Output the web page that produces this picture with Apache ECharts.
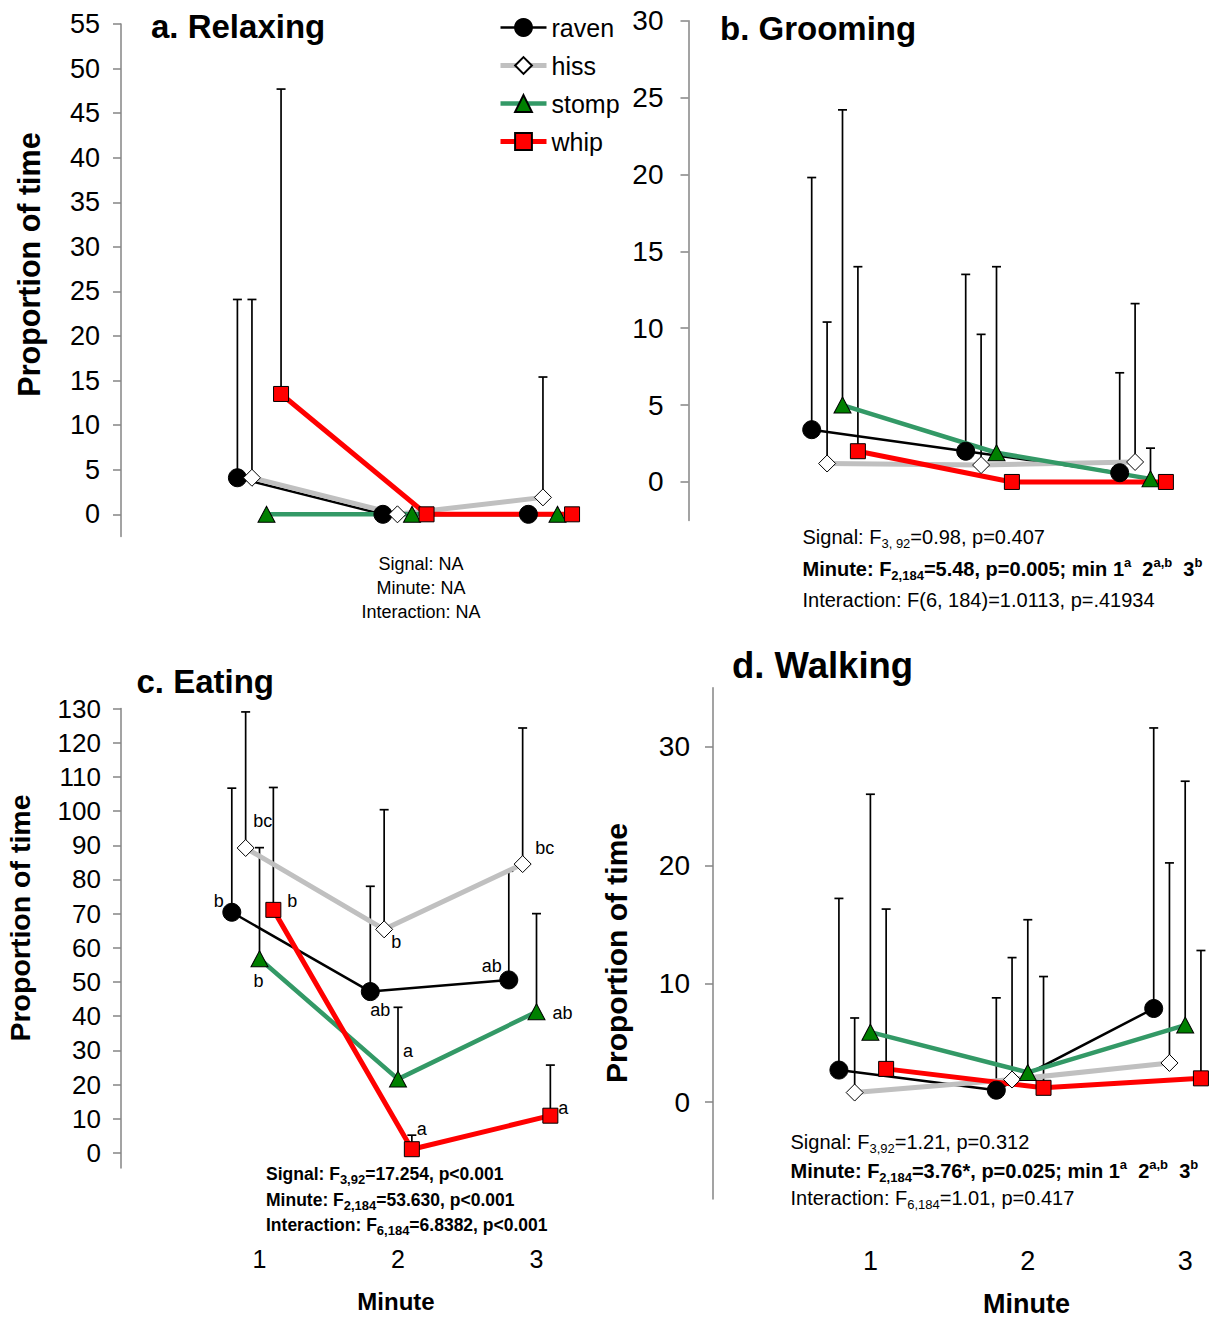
<!DOCTYPE html>
<html>
<head>
<meta charset="utf-8">
<title>Proportion of time by minute and signal</title>
<script src="https://cdn.jsdelivr.net/npm/echarts@6/dist/echarts.min.js"></script>
<style>
  html, body { margin: 0; padding: 0; background: #ffffff; }
  #chart { width: 1216px; height: 1320px; }
</style>
</head>
<body>
<div id="chart"></div>
<script>
// ---------- data ----------
const minutes = [1, 2, 3];
const minuteLabels = ['1', '2', '3'];
const signals = ['raven', 'hiss', 'stomp', 'whip'];

// a. Relaxing: means and SD (upper bars)
const relaxingRaven = [4.1, 0, 0];
const relaxingHiss = [4.1, 0, 1.9];
const relaxingStomp = [0, 0, 0];
const relaxingWhip = [13.5, 0, 0];
const relaxingRavenSd = [20.0, 0, 0];
const relaxingHissSd = [20.0, 0, 13.5];
const relaxingStompSd = [0, 0, 0];
const relaxingWhipSd = [34.2, 0, 0];
const relaxingTicks = [0, 5, 10, 15, 20, 25, 30, 35, 40, 45, 50, 55];

// b. Grooming
const groomingRaven = [3.4, 2.0, 0.6];
const groomingHiss = [1.2, 1.1, 1.3];
const groomingStomp = [5.0, 1.9, 0.2];
const groomingWhip = [2.0, 0, 0];
const groomingRavenSd = [16.4, 11.5, 6.5];
const groomingHissSd = [9.2, 8.5, 10.3];
const groomingStompSd = [19.2, 12.1, 2.0];
const groomingWhipSd = [12.0, 0, 0];
const groomingTicks = [0, 5, 10, 15, 20, 25, 30];

// c. Eating
const eatingRaven = [70.4, 47.2, 50.6];
const eatingHiss = [89.2, 65.4, 84.5];
const eatingStomp = [56.8, 21.6, 41.3];
const eatingWhip = [71.1, 1.1, 10.9];
const eatingRavenSd = [36.3, 30.8, 31.8];
const eatingHissSd = [39.8, 35.0, 39.8];
const eatingStompSd = [32.5, 21.0, 28.7];
const eatingWhipSd = [35.8, 4.1, 14.8];
const eatingRavenGroups = ['b', 'ab', 'ab'];
const eatingHissGroups = ['bc', 'b', 'bc'];
const eatingStompGroups = ['b', 'a', 'ab'];
const eatingWhipGroups = ['b', 'a', 'a'];
const eatingTicks = [0, 10, 20, 30, 40, 50, 60, 70, 80, 90, 100, 110, 120, 130];

// d. Walking
const walkingRaven = [2.7, 1.0, 7.9];
const walkingHiss = [0.8, 1.9, 3.3];
const walkingStomp = [5.9, 2.5, 6.5];
const walkingWhip = [2.8, 1.2, 2.0];
const walkingRavenSd = [14.5, 7.8, 23.7];
const walkingHissSd = [6.3, 10.3, 16.9];
const walkingStompSd = [20.1, 12.9, 20.6];
const walkingWhipSd = [13.5, 9.4, 10.8];
const walkingTicks = [0, 10, 20, 30];

// ---------- styling ----------
const FONT = '"Liberation Sans", Arial, Helvetica, sans-serif';
const AXIS_GRAY = '#858585';
const CAP = 4.5;

const SIGNAL_STYLE = {
  raven: { line: '#000000', width: 2.5, symbol: 'circle', size: 18, fill: '#000000' },
  hiss:  { line: '#c0c0c0', width: 5, symbol: 'diamond', size: 17, fill: '#ffffff' },
  stomp: { line: '#339966', width: 4.5, symbol: 'triangle', size: [17, 16], fill: '#008000' },
  whip:  { line: '#ff0000', width: 5, symbol: 'rect', size: 15, fill: '#ff0000' }
};
// horizontal spread of the four signals around each minute
const SIGNAL_SHIFT = { raven: -0.2, hiss: -0.1, stomp: 0, whip: 0.1 };

// label offsets (px) for the post-hoc letters of panel c
const LETTER_OFFSETS = {
  raven: [[-13, -11], [10, 18], [-17, -14]],
  hiss:  [[17, -27], [12, 13], [22, -16]],
  stomp: [[-1, 22], [10, -28], [26, 1]],
  whip:  [[19, -9], [10, -20], [13, -8]]
};

const panels = [
  {
    id: 'a',
    means: [relaxingRaven, relaxingHiss, relaxingStomp, relaxingWhip],
    sds: [relaxingRavenSd, relaxingHissSd, relaxingStompSd, relaxingWhipSd],
    ticks: relaxingTicks, yMin: -2.5, yMax: 55, xMax: 3.2,
    grid: { left: 121, top: 24, width: 465.6, height: 512.6 },
    labelMargin: 21, tickFont: 27
  },
  {
    id: 'b',
    means: [groomingRaven, groomingHiss, groomingStomp, groomingWhip],
    sds: [groomingRavenSd, groomingHissSd, groomingStompSd, groomingWhipSd],
    ticks: groomingTicks, yMin: -2.5, yMax: 30, xMax: 3.2,
    grid: { left: 688.5, top: 20.7, width: 492.8, height: 499.7 },
    labelMargin: 25, tickFont: 28
  },
  {
    id: 'c',
    means: [eatingRaven, eatingHiss, eatingStomp, eatingWhip],
    sds: [eatingRavenSd, eatingHissSd, eatingStompSd, eatingWhipSd],
    letters: [eatingRavenGroups, eatingHissGroups, eatingStompGroups, eatingWhipGroups],
    ticks: eatingTicks, yMin: -4.4, yMax: 130, xMax: 3.2,
    grid: { left: 121, top: 708.5, width: 443.2, height: 459.5 },
    labelMargin: 20, tickFont: 26,
    minuteAxis: { margin: 78, fontSize: 25 }
  },
  {
    id: 'd',
    means: [walkingRaven, walkingHiss, walkingStomp, walkingWhip],
    sds: [walkingRavenSd, walkingHissSd, walkingStompSd, walkingWhipSd],
    ticks: walkingTicks, yMin: -8.2, yMax: 35, xMax: 3.15,
    grid: { left: 713, top: 687.7, width: 495.8, height: 511.4 },
    labelMargin: 23, tickFont: 28,
    minuteAxis: { margin: 48, fontSize: 27 }
  }
];

// ---------- error bars (upper SD with a cap) ----------
function renderErrorBar(params, api) {
  const x = api.value(0);
  const base = api.coord([x, api.value(1)]);
  const top = api.coord([x, api.value(2)]);
  const style = { stroke: '#000000', lineWidth: 1.7 };
  return {
    type: 'group',
    children: [
      { type: 'line', shape: { x1: base[0], y1: base[1], x2: top[0], y2: top[1] }, style: style },
      { type: 'line', shape: { x1: top[0] - CAP, y1: top[1], x2: top[0] + CAP, y2: top[1] }, style: style }
    ]
  };
}

const grids = [], xAxes = [], yAxes = [], series = [];

panels.forEach(function (p, i) {
  grids.push(Object.assign({ containLabel: false, outerBoundsMode: 'none' }, p.grid));

  const m = p.minuteAxis;
  xAxes.push({
    type: 'value', gridIndex: i, min: 0, max: p.xMax, interval: 1,
    show: !!m,
    axisLine: { show: false, onZero: false },
    axisTick: { show: false },
    splitLine: { show: false },
    axisLabel: m ? {
      show: true, customValues: minutes, margin: m.margin,
      fontSize: m.fontSize, fontFamily: FONT, color: '#000000',
      formatter: function (v) { const k = minutes.indexOf(v); return k < 0 ? '' : minuteLabels[k]; }
    } : { show: false }
  });

  yAxes.push({
    type: 'value', gridIndex: i, min: p.yMin, max: p.yMax,
    axisLine: { show: true, onZero: false, lineStyle: { color: AXIS_GRAY, width: 1.5 } },
    axisTick: { show: true, inside: false, length: 8, customValues: p.ticks, lineStyle: { color: AXIS_GRAY, width: 1.5 } },
    axisLabel: { show: true, customValues: p.ticks, margin: p.labelMargin, fontSize: p.tickFont, fontFamily: FONT, color: '#000000' },
    splitLine: { show: false }
  });

  const bars = [];
  signals.forEach(function (s, k) {
    p.means[k].forEach(function (mean, j) {
      const sd = p.sds[k][j];
      if (sd > 0) bars.push([minutes[j] + SIGNAL_SHIFT[s], mean, mean + sd]);
    });
  });
  series.push({
    type: 'custom', name: 'sd ' + p.id, xAxisIndex: i, yAxisIndex: i, z: 1,
    silent: true, animation: false,
    encode: { x: 0, y: [1, 2] },
    data: bars, renderItem: renderErrorBar
  });

  signals.forEach(function (s, k) {
    const st = SIGNAL_STYLE[s];
    series.push({
      type: 'line', name: s, xAxisIndex: i, yAxisIndex: i, z: 2,
      clip: false, animation: false, showAllSymbol: true,
      symbol: st.symbol, symbolSize: st.size,
      lineStyle: { color: st.line, width: st.width },
      itemStyle: { color: st.fill, borderColor: '#000000', borderWidth: 1 },
      emphasis: { disabled: true },
      data: p.means[k].map(function (mean, j) {
        const item = { value: [minutes[j] + SIGNAL_SHIFT[s], mean] };
        if (p.letters) {
          item.label = {
            show: true, position: 'inside', formatter: p.letters[k][j],
            offset: LETTER_OFFSETS[s][j],
            fontSize: 18, fontFamily: FONT, color: '#000000'
          };
        }
        return item;
      })
    });
  });
});

// ---------- free text ----------
function txt(x, y, text, o) {
  o = o || {};
  return {
    type: 'text', x: x, y: y, rotation: o.rotation || 0, silent: true, z: 10,
    style: {
      text: text, fill: '#000000', fontFamily: FONT,
      fontSize: o.fontSize || 20, fontWeight: o.bold ? 'bold' : 'normal',
      lineHeight: o.lineHeight, rich: o.rich,
      textAlign: o.align || 'left', verticalAlign: 'middle', textVerticalAlign: 'middle'
    }
  };
}

function richStyles(bold) {
  const w = bold ? 'bold' : 'normal';
  return {
    sub: { fontSize: 13, lineHeight: 13, verticalAlign: 'bottom', fontFamily: FONT, fontWeight: w, fill: '#000000', color: '#000000' },
    sup: { fontSize: 13, lineHeight: 13, verticalAlign: 'top', fontFamily: FONT, fontWeight: w, fill: '#000000', color: '#000000' }
  };
}

const graphics = [
  // panel titles
  txt(151, 26, 'a. Relaxing', { fontSize: 33, bold: true }),
  txt(720, 28.5, 'b. Grooming', { fontSize: 33, bold: true }),
  txt(136.5, 681.5, 'c. Eating', { fontSize: 33, bold: true }),
  txt(732, 665, 'd. Walking', { fontSize: 36.5, bold: true }),

  // axis names
  txt(29, 264.5, 'Proportion of time', { fontSize: 30.5, bold: true, align: 'center', rotation: Math.PI / 2 }),
  txt(20, 918, 'Proportion of time', { fontSize: 28.5, bold: true, align: 'center', rotation: Math.PI / 2 }),
  txt(616, 953, 'Proportion of time', { fontSize: 30, bold: true, align: 'center', rotation: Math.PI / 2 }),
  txt(396, 1301, 'Minute', { fontSize: 24, bold: true, align: 'center' }),
  txt(1026.5, 1304, 'Minute', { fontSize: 27, bold: true, align: 'center' }),

  // statistics, panel a
  txt(421, 588, 'Signal: NA\nMinute: NA\nInteraction: NA', { fontSize: 18, lineHeight: 24, align: 'center' }),

  // statistics, panel b
  txt(802.5, 537, 'Signal: F{sub|3, 92}=0.98, p=0.407', { fontSize: 20, lineHeight: 26, rich: richStyles(false) }),
  txt(802.5, 569, 'Minute: F{sub|2,184}=5.48, p=0.005; min 1{sup|a}  2{sup|a,b}  3{sup|b}', { fontSize: 20, lineHeight: 26, bold: true, rich: richStyles(true) }),
  txt(802.5, 600, 'Interaction: F(6, 184)=1.0113, p=.41934', { fontSize: 20, lineHeight: 26 }),

  // statistics, panel c
  txt(266, 1174, 'Signal: F{sub|3,92}=17.254, p<0.001', { fontSize: 17.5, lineHeight: 24, bold: true, rich: richStyles(true) }),
  txt(266, 1200, 'Minute: F{sub|2,184}=53.630, p<0.001', { fontSize: 17.5, lineHeight: 24, bold: true, rich: richStyles(true) }),
  txt(266, 1225, 'Interaction: F{sub|6,184}=6.8382, p<0.001', { fontSize: 17.5, lineHeight: 24, bold: true, rich: richStyles(true) }),

  // statistics, panel d
  txt(790.5, 1142, 'Signal: F{sub|3,92}=1.21, p=0.312', { fontSize: 20, lineHeight: 26, rich: richStyles(false) }),
  txt(790.5, 1171, 'Minute: F{sub|2,184}=3.76*, p=0.025; min 1{sup|a}  2{sup|a,b}  3{sup|b}', { fontSize: 20, lineHeight: 26, bold: true, rich: richStyles(true) }),
  txt(790.5, 1198, 'Interaction: F{sub|6,184}=1.01, p=0.417', { fontSize: 20, lineHeight: 26, rich: richStyles(false) })
];

const chart = echarts.init(document.getElementById('chart'), null, { renderer: 'svg', width: 1216, height: 1320 });
chart.setOption({
  backgroundColor: '#ffffff',
  animation: false,
  textStyle: { fontFamily: FONT },
  legend: {
    data: signals.map(function (s) {
      return { name: s, lineStyle: { width: SIGNAL_STYLE[s].width, color: SIGNAL_STYLE[s].line } };
    }),
    orient: 'vertical', left: 493, top: 10,
    itemWidth: 46, itemHeight: 21, itemGap: 13, selectedMode: false,
    textStyle: { fontSize: 25, fontFamily: FONT, color: '#000000' }
  },
  grid: grids,
  xAxis: xAxes,
  yAxis: yAxes,
  series: series,
  graphic: graphics
});
</script>
</body>
</html>
